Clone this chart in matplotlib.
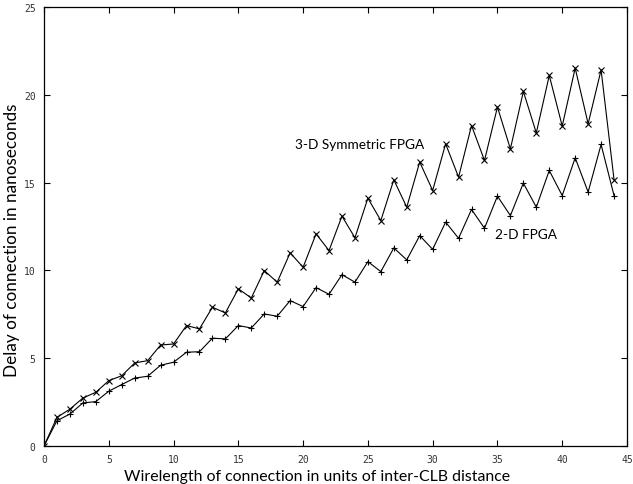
import matplotlib
matplotlib.use("Agg")
import matplotlib.pyplot as plt

wirelength = list(range(0, 45))

delay_3d = [0.0, 1.63, 2.1, 2.73, 3.06, 3.72, 4.0, 4.73, 4.86, 5.75,
            5.81, 6.86, 6.67, 7.9, 7.58, 8.95, 8.43, 9.99, 9.33, 11.0,
            10.18, 12.08, 11.13, 13.09, 11.86, 14.11, 12.84, 15.16, 13.6, 16.17,
            14.55, 17.21, 15.31, 18.25, 16.26, 19.3, 16.92, 20.19, 17.83, 21.1,
            18.22, 21.52, 18.35, 21.42, 15.17]

delay_2d = [0.0, 1.44, 1.82, 2.45, 2.53, 3.12, 3.5, 3.87, 3.97, 4.6,
            4.77, 5.34, 5.37, 6.14, 6.1, 6.86, 6.72, 7.52, 7.39, 8.28,
            7.94, 9.02, 8.64, 9.76, 9.33, 10.5, 9.93, 11.28, 10.6, 11.98,
            11.2, 12.75, 11.83, 13.47, 12.4, 14.23, 13.12, 14.97, 13.6, 15.69,
            14.26, 16.41, 14.46, 17.17, 14.26]

x_ticks = [0, 5, 10, 15, 20, 25, 30, 35, 40, 45]
y_ticks = [0, 5, 10, 15, 20, 25]

fig = plt.figure(figsize=(6.33, 4.85), dpi=100)
ax = fig.add_axes([44/633, 38/485, 583/633, 439/485])

ax.plot(wirelength, delay_3d, color="black", lw=0.8, marker="x", ms=4, mew=0.8)
ax.plot(wirelength, delay_2d, color="black", lw=0.8, marker="+", ms=4, mew=0.8)

ax.set_xlim(0, 45)
ax.set_ylim(0, 25)
ax.set_xticks(x_ticks)
ax.set_yticks(y_ticks)
ax.tick_params(direction="in", top=True, right=True, length=4, width=0.8,
               labelsize=7, pad=6, labelcolor="#333333")
for lab in ax.get_xticklabels() + ax.get_yticklabels():
    lab.set_family("DejaVu Sans Mono")
for s in ax.spines.values():
    s.set_linewidth(0.9)

ax.text(24.4, 17.2, "3-D Symmetric FPGA", fontsize=9.8, family="Lato",
        ha="center", va="center")
ax.text(34.8, 12.1, "2-D FPGA", fontsize=9.8, family="Lato",
        ha="left", va="center")

fig.text(12/633, 1 - 240/485, "Delay of connection in nanoseconds",
         rotation=90, fontsize=12.3, family="Lato", ha="center", va="center")
fig.text(317/633, 1/485,
         "Wirelength of connection in units of inter-CLB distance",
         fontsize=11.4, family="Lato", ha="center", va="bottom")

fig.savefig("out.png", dpi=100)
